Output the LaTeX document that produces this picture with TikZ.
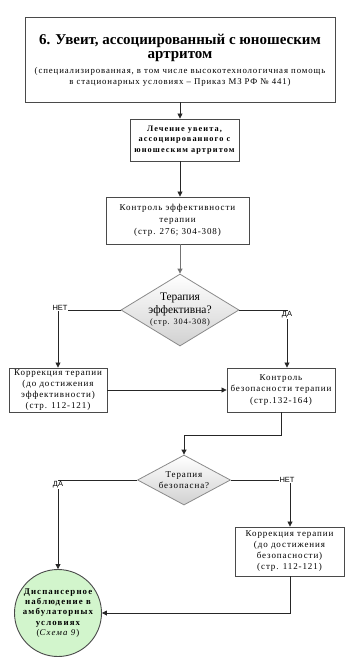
\documentclass[tikz,border=0pt]{standalone}
\usepackage{fontspec}
\setmainfont{Liberation Serif}
\newfontfamily\lsans{Liberation Sans}
\newfontfamily\spf[LetterSpace=10]{Liberation Serif}
\newfontfamily\spb[LetterSpace=13]{Liberation Serif}
\usetikzlibrary{shapes.geometric,arrows.meta}
\definecolor{bordc}{HTML}{4A4A4A}
\definecolor{diagc}{HTML}{8A8A8A}
\definecolor{circc}{HTML}{D2F5CC}
\begin{document}
\begin{tikzpicture}[x=1pt,y=-1pt,
  boxst/.style={draw=bordc,line width=0.9pt,fill=white,rectangle,inner sep=1pt,align=center},
  diast/.style={draw=diagc,line width=0.8pt,diamond,inner sep=0pt,top color=white,bottom color=black!18},
  conn/.style={draw=black!85,line width=0.8pt,-{Triangle[length=5pt,width=5pt]}},
  lab/.style={font=\lsans\fontsize{7.5}{8}\selectfont,fill=white,inner sep=0.5pt}]
\useasboundingbox (0,0) rectangle (361,667);
% nodes
\node[boxst,minimum width=310pt,minimum height=85pt] (title) at (180,59.5) {};
\node[align=center,font=\bfseries\fontsize{15}{14}\selectfont] (titlet) at (180,47.5) {6. Увеит, ассоциированный с юношеским\\артритом};
\node[align=center,font=\spf\fontsize{8.8}{11}\selectfont] (titles) at (180,76.5) {(специализированная, в том числе высокотехнологичная помощь\\в стационарных условиях – Приказ МЗ РФ № 441)};
\node[boxst,minimum width=109pt,minimum height=42pt,font=\spb\bfseries\fontsize{8.3}{10.8}\selectfont] (b2) at (184.5,140) {Лечение увеита,\\ассоциированного с\\юношеским артритом};
\node[boxst,minimum width=143pt,minimum height=47pt,font=\spf\fontsize{9}{11.8}\selectfont] (b3) at (177.5,220.5) {Контроль эффективности\\терапии\\(стр. 276; 304-308)};
\node[diast,minimum width=118pt,minimum height=72pt] (d1) at (180,310) {};
\node[align=center,font=\fontsize{11.5}{12.5}\selectfont] (d1t) at (180,310) {Терапия\\эффективна?\\[-1pt]{\spf\fontsize{8.3}{10}\selectfont(стр. 304-308)}};
\node[boxst,minimum width=98pt,minimum height=44pt,font=\spf\fontsize{9}{11}\selectfont] (b4) at (58,390) {Коррекция терапии\\(до достижения\\эффективности)\\(стр. 112-121)};
\node[boxst,minimum width=108pt,minimum height=44pt,font=\spf\fontsize{9}{11.5}\selectfont] (b5) at (281,390) {Контроль\\безопасности терапии\\(стр.132-164)};
\node[diast,minimum width=93pt,minimum height=50pt] (d2) at (184,480) {};
\node[align=center,font=\spf\fontsize{9}{11.5}\selectfont] (d2t) at (184,480) {Терапия\\безопасна?};
\node[boxst,minimum width=109pt,minimum height=49pt,font=\spf\fontsize{9}{11}\selectfont] (b6) at (289.5,551.5) {Коррекция терапии\\(до достижения\\безопасности)\\(стр. 112-121)};
\node[circle,draw=bordc,line width=0.9pt,fill=circc,minimum size=87pt,inner sep=0pt,align=center,font=\spb\bfseries\fontsize{8.8}{10.3}\selectfont] (c) at (58,613) {Диспансерное\\наблюдение в\\амбулаторных\\условиях\\{\mdseries(\textit{Схема 9})}};
% connectors
\draw[conn] (title.south) -- (title.south |- b2.north);
\draw[conn] (b2.south -| title.south) -- (title.south |- b3.north);
\draw[conn,draw=black!55] (b3.south -| d1.north) -- (d1.north);
\coordinate (k1) at (58,310);
\coordinate (k2) at (287,310);
\draw[conn] (d1.west) -- (k1) -- (b4.north);
\draw[conn] (d1.east) -- (k2) -- (k2 |- b5.north);
\node[lab] (l1) at (60,308) {НЕТ};
\node[lab] (l2) at (287,315) {ДА};
\draw[conn] (b4.east) -- (b5.west);
\coordinate (k3) at (281,435);
\coordinate (k4) at (184,435);
\draw[conn] (b5.south) -- (k3) -- (k4) -- (d2.north);
\coordinate (k5) at (58,480);
\coordinate (k6) at (290,480);
\draw[conn] (d2.west) -- (k5) -- (c.north);
\draw[conn] (d2.east) -- (k6) -- (k6 |- b6.north);
\node[lab] (l3) at (58,485) {ДА};
\node[lab] (l4) at (287,480) {НЕТ};
\coordinate (k7) at (290,613);
\draw[conn] (k6 |- b6.south) -- (k7) -- (c.east);
\end{tikzpicture}
\end{document}
